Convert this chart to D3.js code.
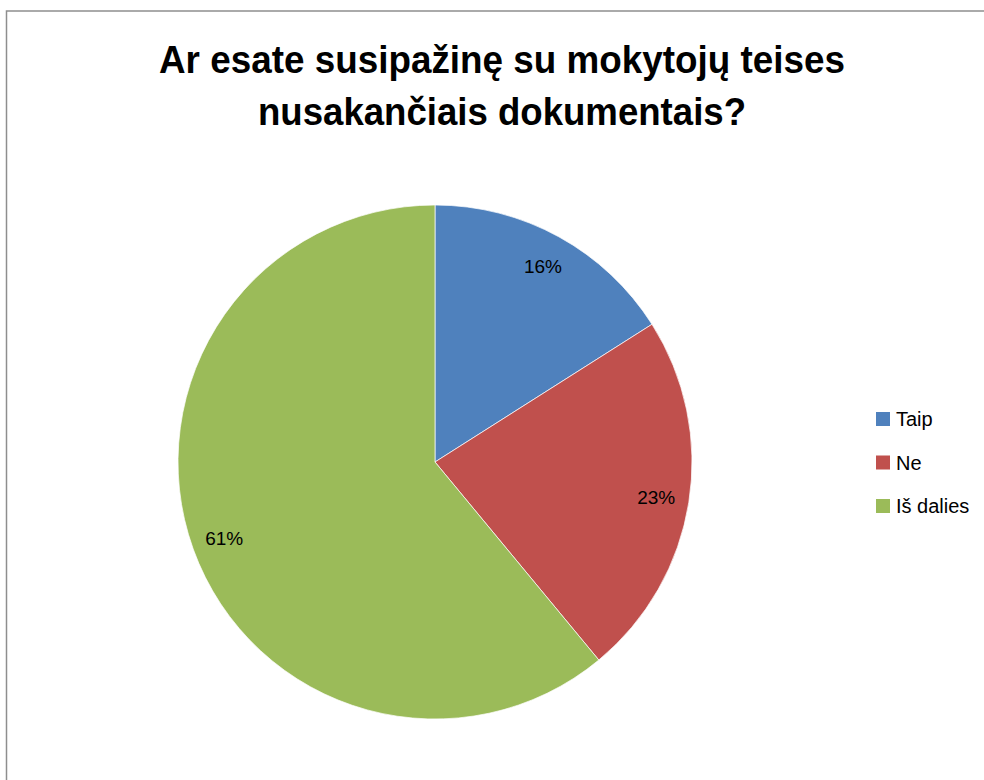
<!DOCTYPE html>
<html lang="lt">
<head>
<meta charset="utf-8">
<script src="https://d3js.org/d3.v7.min.js"></script>
<title>Mokytojų teisės</title>
<style type="text/css">
body {
	margin: 0;
	background-color: #ffffff;
	font-family: "Liberation Sans", Arial, sans-serif;
}
svg { display: block; }
</style>
</head>
<body>
<script type="text/javascript">
// data
var categories = ["Taip", "Ne", "Iš dalies"];
var values = [16, 23, 61];
var colors = ["#4F81BD", "#C0504D", "#9BBB59"];
var titleLines = ["Ar esate susipažinę su mokytojų teises", "nusakančiais dokumentais?"];

var width = 984;
var height = 780;

var cx = 435, cy = 462, radius = 257;

var svg = d3.select("body")
  .append("svg")
  .attr("width", width)
  .attr("height", height);

// chart area border (runs off the right and bottom edge)
svg.append("rect")
  .attr("x", 6.5)
  .attr("y", 11)
  .attr("width", width + 20)
  .attr("height", height + 20)
  .style("fill", "#fff")
  .style("stroke", "#8e8e8e")
  .style("stroke-width", 1.5);

// title
svg.selectAll("text.title")
  .data(titleLines)
  .enter()
  .append("text")
  .attr("class", "title")
  .attr("x", 502)
  .attr("y", function(d, i) { return 73 + i * 52; })
  .attr("text-anchor", "middle")
  .attr("textLength", function(d, i) { return i == 0 ? 686 : 488; })
  .attr("lengthAdjust", "spacingAndGlyphs")
  .style("font-size", "39px")
  .style("font-weight", "bold")
  .style("fill", "#000")
  .text(function(d) { return d; });

// pie
var pie = d3.pie().sort(null).value(function(d) { return d; });
var arc = d3.arc().innerRadius(0).outerRadius(radius);
var labelArc = d3.arc().innerRadius(224).outerRadius(224);

var total = d3.sum(values);
var g = svg.append("g").attr("transform", "translate(" + cx + "," + cy + ")");

var slices = g.selectAll("g.slice")
  .data(pie(values))
  .enter()
  .append("g")
  .attr("class", "slice");

slices.append("path")
  .attr("d", arc)
  .style("fill", function(d, i) { return colors[i]; })
  .style("stroke", "#fff")
  .style("stroke-width", 0.7);

slices.append("text")
  .attr("transform", function(d) {
    var c = labelArc.centroid(d);
    return "translate(" + c[0] + "," + (c[1] + 7) + ")";
  })
  .attr("text-anchor", "middle")
  .style("font-size", "19px")
  .style("fill", "#000")
  .text(function(d) { return Math.round(d.value / total * 100) + "%"; });

// legend
var legend = svg.selectAll("g.legend")
  .data(categories)
  .enter()
  .append("g")
  .attr("class", "legend")
  .attr("transform", function(d, i) { return "translate(876," + (412 + i * 43.5) + ")"; });

legend.append("rect")
  .attr("width", 14)
  .attr("height", 14)
  .style("fill", function(d, i) { return colors[i]; });

legend.append("text")
  .attr("x", 20)
  .attr("y", 14)
  .style("font-size", "20px")
  .style("fill", "#000")
  .text(function(d) { return d; });
</script>
</body>
</html>
